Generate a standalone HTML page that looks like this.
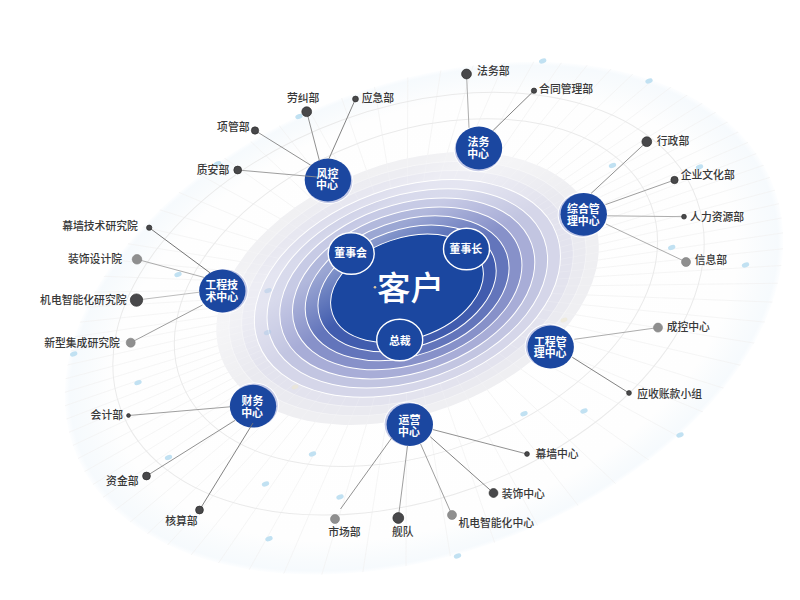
<!DOCTYPE html>
<html lang="zh"><head><meta charset="utf-8"><title>组织架构图</title>
<style>html,body{margin:0;padding:0;background:#fff;font-family:"Liberation Sans",sans-serif}svg{display:block}</style></head>
<body><svg width="800" height="600" viewBox="0 0 800 600">
<defs>
<radialGradient id="bgG" cx="0.5" cy="0.5" r="0.5"><stop offset="0" stop-color="#fff"/><stop offset="0.87" stop-color="#fefefe"/><stop offset="0.95" stop-color="#f8fbfd"/><stop offset="0.985" stop-color="#f6fafd"/><stop offset="1" stop-color="#fdfeff"/></radialGradient>
<clipPath id="bgC"><ellipse cx="424.00" cy="318.20" rx="373.60" ry="235.00" transform="rotate(-20.70 424.00 318.20)" /></clipPath>
</defs>
<ellipse cx="424.00" cy="318.20" rx="373.60" ry="235.00" transform="rotate(-20.70 424.00 318.20)" fill="url(#bgG)"/>
<g clip-path="url(#bgC)" stroke="#f2f2f2" stroke-width="0.8" fill="none"><path d="M463.7 268.5L898.7 118.7M464.4 270.5L904.4 136.4M465.0 272.6L909.6 154.4M465.5 274.7L914.1 173.0M466.0 277.0L918.1 192.4M466.4 279.3L921.5 212.6M466.7 281.8L924.2 234.0M466.9 284.4L926.1 256.8M467.0 287.2L927.0 281.4M467.0 290.3L926.6 308.1M466.7 293.7L924.7 337.3M466.3 297.4L920.6 369.5M465.5 301.5L913.6 405.3M464.2 306.1L902.8 444.9M462.3 311.2L886.6 489.0M459.6 316.8L863.3 537.4M455.9 322.8L830.6 589.5M450.8 329.0L786.3 643.7M444.1 335.1L728.6 696.6M435.9 340.6L657.7 743.6M426.5 344.7L576.3 779.7M416.6 347.2L489.9 801.3M406.8 348.0L405.1 808.0M397.8 347.3L327.1 801.8M389.9 345.5L258.8 786.4M383.2 343.1L201.0 765.4M377.7 340.3L152.8 741.6M373.1 337.5L113.0 716.9M369.3 334.6L80.0 692.3M366.1 331.9L52.5 668.4M363.4 329.3L29.5 645.6M361.2 326.7L9.9 623.8M359.3 324.3L-6.8 602.9M357.6 322.0L-21.2 583.0M356.1 319.8L-33.8 563.9M354.9 317.7L-44.9 545.3M353.7 315.6L-54.7 527.3M352.7 313.6L-63.4 509.6M351.8 311.6L-71.2 492.2M351.0 309.5L-78.3 474.8M350.3 307.5L-84.7 457.3M349.6 305.5L-90.4 439.6M349.0 303.4L-95.6 421.6M348.5 301.3L-100.1 403.0M348.0 299.0L-104.1 383.6M347.6 296.7L-107.5 363.4M347.3 294.2L-110.2 342.0M347.1 291.6L-112.1 319.2M347.0 288.8L-113.0 294.6M347.0 285.7L-112.6 267.9M347.3 282.3L-110.7 238.7M347.7 278.6L-106.6 206.5M348.5 274.5L-99.6 170.7M349.8 269.9L-88.8 131.1M351.7 264.8L-72.6 87.0M354.4 259.2L-49.3 38.6M358.1 253.2L-16.6 -13.5M363.2 247.0L27.7 -67.7M369.9 240.9L85.4 -120.6M378.1 235.4L156.3 -167.6M387.5 231.3L237.7 -203.7M397.4 228.8L324.1 -225.3M407.2 228.0L408.9 -232.0M416.2 228.7L486.9 -225.8M424.1 230.5L555.2 -210.4M430.8 232.9L613.0 -189.4M436.3 235.7L661.2 -165.6M440.9 238.5L701.0 -140.9M444.7 241.4L734.0 -116.3M447.9 244.1L761.5 -92.4M450.6 246.7L784.5 -69.6M452.8 249.3L804.1 -47.8M454.7 251.7L820.8 -26.9M456.4 254.0L835.2 -7.0M457.9 256.2L847.8 12.1M459.1 258.3L858.9 30.7M460.3 260.4L868.7 48.7M461.3 262.4L877.4 66.4M462.2 264.4L885.2 83.8M463.0 266.5L892.3 101.2"/></g>
<ellipse cx="415.90" cy="292.60" rx="251.00" ry="160.00" transform="rotate(-20.60 415.90 292.60)" fill="none" stroke="#eaeaea" stroke-width="1"/>
<ellipse cx="408.50" cy="303.70" rx="306.50" ry="195.30" transform="rotate(-20.00 408.50 303.70)" fill="none" stroke="#eaeaea" stroke-width="1"/>
<g fill="#c1e1f2"><ellipse cx="542.7" cy="61" rx="3.8" ry="2.35" transform="rotate(-20 542.7 61)"/><ellipse cx="649" cy="81" rx="3.8" ry="2.35" transform="rotate(-20 649 81)"/><ellipse cx="299" cy="116.5" rx="3.8" ry="2.35" transform="rotate(-20 299 116.5)"/><ellipse cx="217.5" cy="163.7" rx="3.8" ry="2.35" transform="rotate(-20 217.5 163.7)"/><ellipse cx="178" cy="274.5" rx="3.8" ry="2.35" transform="rotate(-20 178 274.5)"/><ellipse cx="73.7" cy="354" rx="3.8" ry="2.35" transform="rotate(-20 73.7 354)"/><ellipse cx="138" cy="382.6" rx="3.8" ry="2.35" transform="rotate(-20 138 382.6)"/><ellipse cx="612.5" cy="165.5" rx="3.8" ry="2.35" transform="rotate(-20 612.5 165.5)"/><ellipse cx="699.5" cy="167" rx="3.8" ry="2.35" transform="rotate(-20 699.5 167)"/><ellipse cx="671.7" cy="247.5" rx="3.8" ry="2.35" transform="rotate(-20 671.7 247.5)"/><ellipse cx="745.5" cy="265" rx="3.8" ry="2.35" transform="rotate(-20 745.5 265)"/><ellipse cx="524" cy="413.7" rx="3.8" ry="2.35" transform="rotate(-20 524 413.7)"/><ellipse cx="584" cy="411" rx="3.8" ry="2.35" transform="rotate(-20 584 411)"/><ellipse cx="680" cy="435" rx="3.8" ry="2.35" transform="rotate(-20 680 435)"/><ellipse cx="312.5" cy="454" rx="3.8" ry="2.35" transform="rotate(-20 312.5 454)"/><ellipse cx="265.5" cy="484" rx="3.8" ry="2.35" transform="rotate(-20 265.5 484)"/><ellipse cx="340" cy="497" rx="3.8" ry="2.35" transform="rotate(-20 340 497)"/><ellipse cx="269" cy="538.8" rx="3.8" ry="2.35" transform="rotate(-20 269 538.8)"/><ellipse cx="168.5" cy="457.5" rx="3.8" ry="2.35" transform="rotate(-20 168.5 457.5)"/><ellipse cx="457.5" cy="556" rx="3.8" ry="2.35" transform="rotate(-20 457.5 556)"/></g>
<clipPath id="r9C"><ellipse cx="407.60" cy="288.50" rx="198.68" ry="125.24" transform="rotate(-20.53 407.60 288.50)" /></clipPath>
<ellipse cx="407.60" cy="288.50" rx="198.68" ry="125.24" transform="rotate(-20.53 407.60 288.50)" fill="#efeff2" />
<ellipse cx="407.54" cy="288.48" rx="185.36" ry="116.93" transform="rotate(-20.36 407.54 288.48)" fill="#eaeaf0" stroke="#fff" stroke-opacity="0.4" stroke-width="0.9"/>
<ellipse cx="407.47" cy="288.45" rx="172.04" ry="108.62" transform="rotate(-20.19 407.47 288.45)" fill="#e3e3ee" stroke="#fff" stroke-opacity="0.4" stroke-width="0.9"/>
<g clip-path="url(#r9C)" stroke="#fff" stroke-opacity="0.25" stroke-width="0.7" fill="none"><path d="M463.7 268.5L898.7 118.7M464.4 270.5L904.4 136.4M465.0 272.6L909.6 154.4M465.5 274.7L914.1 173.0M466.0 277.0L918.1 192.4M466.4 279.3L921.5 212.6M466.7 281.8L924.2 234.0M466.9 284.4L926.1 256.8M467.0 287.2L927.0 281.4M467.0 290.3L926.6 308.1M466.7 293.7L924.7 337.3M466.3 297.4L920.6 369.5M465.5 301.5L913.6 405.3M464.2 306.1L902.8 444.9M462.3 311.2L886.6 489.0M459.6 316.8L863.3 537.4M455.9 322.8L830.6 589.5M450.8 329.0L786.3 643.7M444.1 335.1L728.6 696.6M435.9 340.6L657.7 743.6M426.5 344.7L576.3 779.7M416.6 347.2L489.9 801.3M406.8 348.0L405.1 808.0M397.8 347.3L327.1 801.8M389.9 345.5L258.8 786.4M383.2 343.1L201.0 765.4M377.7 340.3L152.8 741.6M373.1 337.5L113.0 716.9M369.3 334.6L80.0 692.3M366.1 331.9L52.5 668.4M363.4 329.3L29.5 645.6M361.2 326.7L9.9 623.8M359.3 324.3L-6.8 602.9M357.6 322.0L-21.2 583.0M356.1 319.8L-33.8 563.9M354.9 317.7L-44.9 545.3M353.7 315.6L-54.7 527.3M352.7 313.6L-63.4 509.6M351.8 311.6L-71.2 492.2M351.0 309.5L-78.3 474.8M350.3 307.5L-84.7 457.3M349.6 305.5L-90.4 439.6M349.0 303.4L-95.6 421.6M348.5 301.3L-100.1 403.0M348.0 299.0L-104.1 383.6M347.6 296.7L-107.5 363.4M347.3 294.2L-110.2 342.0M347.1 291.6L-112.1 319.2M347.0 288.8L-113.0 294.6M347.0 285.7L-112.6 267.9M347.3 282.3L-110.7 238.7M347.7 278.6L-106.6 206.5M348.5 274.5L-99.6 170.7M349.8 269.9L-88.8 131.1M351.7 264.8L-72.6 87.0M354.4 259.2L-49.3 38.6M358.1 253.2L-16.6 -13.5M363.2 247.0L27.7 -67.7M369.9 240.9L85.4 -120.6M378.1 235.4L156.3 -167.6M387.5 231.3L237.7 -203.7M397.4 228.8L324.1 -225.3M407.2 228.0L408.9 -232.0M416.2 228.7L486.9 -225.8M424.1 230.5L555.2 -210.4M430.8 232.9L613.0 -189.4M436.3 235.7L661.2 -165.6M440.9 238.5L701.0 -140.9M444.7 241.4L734.0 -116.3M447.9 244.1L761.5 -92.4M450.6 246.7L784.5 -69.6M452.8 249.3L804.1 -47.8M454.7 251.7L820.8 -26.9M456.4 254.0L835.2 -7.0M457.9 256.2L847.8 12.1M459.1 258.3L858.9 30.7M460.3 260.4L868.7 48.7M461.3 262.4L877.4 66.4M462.2 264.4L885.2 83.8M463.0 266.5L892.3 101.2"/></g>
<ellipse cx="407.40" cy="288.43" rx="158.72" ry="100.31" transform="rotate(-20.02 407.40 288.43)" fill="#d5d6e9" stroke="#fff" stroke-width="1.0"/>
<ellipse cx="407.33" cy="288.41" rx="145.40" ry="92.00" transform="rotate(-19.85 407.33 288.41)" fill="#c2c5e1" stroke="#fff" stroke-width="1.0"/>
<ellipse cx="407.27" cy="288.39" rx="132.08" ry="83.69" transform="rotate(-19.68 407.27 288.39)" fill="#a8add7" stroke="#fff" stroke-width="1.0"/>
<ellipse cx="407.20" cy="288.37" rx="118.76" ry="75.38" transform="rotate(-19.51 407.20 288.37)" fill="#8791c9" stroke="#fff" stroke-width="1.0"/>
<ellipse cx="407.13" cy="288.34" rx="105.44" ry="67.07" transform="rotate(-19.34 407.13 288.34)" fill="#6375bb" stroke="#fff" stroke-width="1.0"/>
<ellipse cx="407.07" cy="288.32" rx="92.12" ry="58.76" transform="rotate(-19.17 407.07 288.32)" fill="#415cae" stroke="#fff" stroke-width="1.0"/>
<linearGradient id="fog" gradientUnits="userSpaceOnUse" x1="407" y1="288.4" x2="386.6" y2="170.2"><stop offset="0.04" stop-color="#fff" stop-opacity="0"/><stop offset="0.48" stop-color="#fff" stop-opacity="0.36"/><stop offset="0.67" stop-color="#fff" stop-opacity="0.36"/><stop offset="0.85" stop-color="#fff" stop-opacity="0.16"/><stop offset="1" stop-color="#fff" stop-opacity="0.10"/></linearGradient>
<ellipse cx="407.60" cy="288.50" rx="198.68" ry="125.24" transform="rotate(-20.53 407.60 288.50)" fill="url(#fog)"/>
<ellipse cx="407.00" cy="288.30" rx="78.80" ry="50.45" transform="rotate(-19.00 407.00 288.30)" fill="#1b47a0" stroke="#fff" stroke-width="1.0"/>
<ellipse cx="267.5" cy="332.5" rx="3.8" ry="2.35" transform="rotate(-20 267.5 332.5)" fill="#a9c8e6" fill-opacity="0.45"/>
<ellipse cx="268" cy="290.6" rx="3.8" ry="2.35" transform="rotate(-20 268 290.6)" fill="#a9c8e6" fill-opacity="0.45"/>
<ellipse cx="564" cy="320" rx="3.5" ry="2.2" transform="rotate(-20 564 320)" fill="#ece6cf" fill-opacity="0.6"/>
<ellipse cx="295" cy="387" rx="3.5" ry="2.2" transform="rotate(-20 295 387)" fill="#ece6cf" fill-opacity="0.6"/>
<circle cx="375" cy="287.2" r="1.3" fill="#dcc8a0"/>
<ellipse cx="351.2" cy="253.5" rx="23.0" ry="20.8" fill="#1b47a0" stroke="#fff" stroke-width="1.4"/>
<ellipse cx="466.5" cy="249" rx="23.0" ry="20.8" fill="#1b47a0" stroke="#fff" stroke-width="1.4"/>
<ellipse cx="399.7" cy="340" rx="23.0" ry="20.8" fill="#1b47a0" stroke="#fff" stroke-width="1.4"/>
<ellipse cx="328.85" cy="181.29" rx="24.599999999999998" ry="22.799999999999997" fill="#fff"/><ellipse cx="328.85" cy="181.29" rx="23.599999999999998" ry="21.799999999999997" fill="#c3c9e7"/><ellipse cx="327.9" cy="180" rx="23.2" ry="21.4" fill="#1b47a0"/><ellipse cx="478.27" cy="149.42" rx="24.599999999999998" ry="22.799999999999997" fill="#fff"/><ellipse cx="478.27" cy="149.42" rx="23.599999999999998" ry="21.799999999999997" fill="#c3c9e7"/><ellipse cx="479" cy="148" rx="23.2" ry="21.4" fill="#1b47a0"/><ellipse cx="582.27" cy="214.92" rx="24.599999999999998" ry="22.799999999999997" fill="#fff"/><ellipse cx="582.27" cy="214.92" rx="23.599999999999998" ry="21.799999999999997" fill="#c3c9e7"/><ellipse cx="583.75" cy="214.3" rx="23.2" ry="21.4" fill="#1b47a0"/><ellipse cx="549.22" cy="346.39" rx="24.599999999999998" ry="22.799999999999997" fill="#fff"/><ellipse cx="549.22" cy="346.39" rx="23.599999999999998" ry="21.799999999999997" fill="#c3c9e7"/><ellipse cx="550.7" cy="347" rx="23.2" ry="21.4" fill="#1b47a0"/><ellipse cx="408.25" cy="424.21" rx="24.599999999999998" ry="22.799999999999997" fill="#fff"/><ellipse cx="408.25" cy="424.21" rx="23.599999999999998" ry="21.799999999999997" fill="#c3c9e7"/><ellipse cx="409.8" cy="424.6" rx="23.2" ry="21.4" fill="#1b47a0"/><ellipse cx="254.27" cy="405.23" rx="24.599999999999998" ry="22.799999999999997" fill="#fff"/><ellipse cx="254.27" cy="405.23" rx="23.599999999999998" ry="21.799999999999997" fill="#c3c9e7"/><ellipse cx="253" cy="406.2" rx="23.2" ry="21.4" fill="#1b47a0"/><ellipse cx="223.90" cy="290.98" rx="24.599999999999998" ry="22.799999999999997" fill="#fff"/><ellipse cx="223.90" cy="290.98" rx="23.599999999999998" ry="21.799999999999997" fill="#c3c9e7"/><ellipse cx="222.3" cy="291" rx="23.2" ry="21.4" fill="#1b47a0"/>
<g stroke-width="0.9"><line x1="237.7" y1="170.0" x2="317.0" y2="177.0" stroke="#939393"/><line x1="255.0" y1="130.5" x2="310.7" y2="165.2" stroke="#858585"/><line x1="306.7" y1="111.7" x2="319.5" y2="161.0" stroke="#858585"/><line x1="355.5" y1="99.0" x2="328.9" y2="158.8" stroke="#747474"/><line x1="466.5" y1="74.0" x2="469.0" y2="127.8" stroke="#a3a3a3"/><line x1="534.0" y1="90.7" x2="493.2" y2="130.3" stroke="#747474"/><line x1="646.8" y1="141.7" x2="591.1" y2="193.4" stroke="#858585"/><line x1="674.5" y1="180.0" x2="605.5" y2="204.6" stroke="#939393"/><line x1="684.0" y1="216.7" x2="607.2" y2="215.8" stroke="#a3a3a3"/><line x1="686.0" y1="262.0" x2="606.0" y2="224.0" stroke="#a3a3a3"/><line x1="658.0" y1="327.6" x2="574.3" y2="339.3" stroke="#a3a3a3"/><line x1="629.0" y1="393.0" x2="572.3" y2="357.3" stroke="#747474"/><line x1="527.0" y1="454.0" x2="433.0" y2="429.6" stroke="#858585"/><line x1="493.5" y1="493.0" x2="430.3" y2="436.8" stroke="#747474"/><line x1="452.0" y1="515.0" x2="420.5" y2="443.8" stroke="#939393"/><line x1="398.3" y1="518.0" x2="407.5" y2="445.8" stroke="#939393"/><line x1="340.5" y1="509.0" x2="391.8" y2="437.8" stroke="#858585"/><line x1="128.5" y1="415.5" x2="230.2" y2="406.8" stroke="#939393"/><line x1="146.5" y1="476.0" x2="235.2" y2="420.3" stroke="#858585"/><line x1="199.5" y1="510.0" x2="253.0" y2="423.0" stroke="#747474"/><line x1="149.2" y1="227.7" x2="210.0" y2="272.8" stroke="#636363"/><line x1="137.0" y1="259.3" x2="204.0" y2="277.4" stroke="#a3a3a3"/><line x1="136.5" y1="300.1" x2="199.5" y2="292.2" stroke="#b4b4b4"/><line x1="130.7" y1="342.7" x2="202.5" y2="305.0" stroke="#939393"/></g>
<circle cx="237.7" cy="170" r="3.90" fill="#48484a" stroke="#2e2e2e" stroke-width="0.7"/><circle cx="255" cy="130.5" r="3.65" fill="#48484a" stroke="#2e2e2e" stroke-width="0.7"/><circle cx="306.7" cy="111.7" r="4.90" fill="#48484a" stroke="#2e2e2e" stroke-width="0.7"/><circle cx="355.5" cy="99" r="2.90" fill="#48484a" stroke="#2e2e2e" stroke-width="0.7"/><circle cx="466.5" cy="74" r="4.90" fill="#48484a" stroke="#2e2e2e" stroke-width="0.7"/><circle cx="534" cy="90.7" r="2.65" fill="#48484a" stroke="#2e2e2e" stroke-width="0.7"/><circle cx="646.8" cy="141.7" r="4.90" fill="#48484a" stroke="#2e2e2e" stroke-width="0.7"/><circle cx="674.5" cy="180" r="3.65" fill="#48484a" stroke="#2e2e2e" stroke-width="0.7"/><circle cx="684" cy="216.7" r="2.40" fill="#48484a" stroke="#2e2e2e" stroke-width="0.7"/><circle cx="686" cy="262" r="4.50" fill="#8f8f8f" stroke="#818181" stroke-width="0.6"/><circle cx="658" cy="327.6" r="4.50" fill="#8f8f8f" stroke="#818181" stroke-width="0.6"/><circle cx="629" cy="393" r="2.40" fill="#48484a" stroke="#2e2e2e" stroke-width="0.7"/><circle cx="527" cy="454" r="2.40" fill="#48484a" stroke="#2e2e2e" stroke-width="0.7"/><circle cx="493.5" cy="493" r="4.40" fill="#48484a" stroke="#2e2e2e" stroke-width="0.7"/><circle cx="452" cy="515" r="4.50" fill="#8f8f8f" stroke="#818181" stroke-width="0.6"/><circle cx="398.3" cy="518" r="5.40" fill="#48484a" stroke="#2e2e2e" stroke-width="0.7"/><circle cx="335" cy="519" r="4.50" fill="#8f8f8f" stroke="#818181" stroke-width="0.6"/><circle cx="128.5" cy="415.5" r="1.90" fill="#48484a" stroke="#2e2e2e" stroke-width="0.7"/><circle cx="146.5" cy="476" r="3.90" fill="#48484a" stroke="#2e2e2e" stroke-width="0.7"/><circle cx="199.5" cy="510" r="3.90" fill="#48484a" stroke="#2e2e2e" stroke-width="0.7"/><circle cx="149.2" cy="227.7" r="2.65" fill="#48484a" stroke="#2e2e2e" stroke-width="0.7"/><circle cx="137" cy="259.3" r="4.80" fill="#8f8f8f" stroke="#818181" stroke-width="0.6"/><circle cx="136.5" cy="300.1" r="6.20" fill="#48484a" stroke="#2e2e2e" stroke-width="0.7"/><circle cx="130.7" cy="342.7" r="4.50" fill="#8f8f8f" stroke="#818181" stroke-width="0.6"/>
<g font-family="'Liberation Sans', 'Noto Sans CJK SC', sans-serif"><text x="316.5" y="177.9" font-size="10.9" font-weight="700" fill="#fff" textLength="21.8">风控</text><text x="316.1" y="189.2" font-size="10.9" font-weight="700" fill="#fff" textLength="21.8">中心</text><text x="196.8" y="174.1" font-size="10.8" font-weight="500" fill="#383838" textLength="32.4">质安部</text><text x="217.1" y="131.1" font-size="10.8" font-weight="500" fill="#383838" textLength="32.4">项管部</text><text x="287.0" y="102.1" font-size="10.8" font-weight="500" fill="#383838" textLength="32.4">劳纠部</text><text x="361.7" y="102.1" font-size="10.8" font-weight="500" fill="#383838" textLength="32.4">应急部</text><text x="467.6" y="145.7" font-size="10.9" font-weight="700" fill="#fff" textLength="21.8">法务</text><text x="467.2" y="157.8" font-size="10.9" font-weight="700" fill="#fff" textLength="21.8">中心</text><text x="477.1" y="74.6" font-size="10.8" font-weight="500" fill="#383838" textLength="32.4">法务部</text><text x="539.1" y="93.1" font-size="10.8" font-weight="500" fill="#383838" textLength="54.0">合同管理部</text><text x="567.0" y="213.3" font-size="10.9" font-weight="700" fill="#fff" textLength="32.7">综合管</text><text x="566.9" y="225.0" font-size="10.9" font-weight="700" fill="#fff" textLength="32.7">理中心</text><text x="656.8" y="145.1" font-size="10.8" font-weight="500" fill="#383838" textLength="32.4">行政部</text><text x="680.7" y="178.6" font-size="10.8" font-weight="500" fill="#383838" textLength="54.0">企业文化部</text><text x="690.1" y="220.8" font-size="10.8" font-weight="500" fill="#383838" textLength="54.0">人力资源部</text><text x="694.7" y="263.6" font-size="10.8" font-weight="500" fill="#383838" textLength="32.4">信息部</text><text x="533.9" y="345.6" font-size="10.9" font-weight="700" fill="#fff" textLength="32.7">工程管</text><text x="533.8" y="357.1" font-size="10.9" font-weight="700" fill="#fff" textLength="32.7">理中心</text><text x="666.7" y="331.1" font-size="10.8" font-weight="500" fill="#383838" textLength="43.2">成控中心</text><text x="637.2" y="397.8" font-size="10.8" font-weight="500" fill="#383838" textLength="64.8">应收账款小组</text><text x="398.6" y="424.2" font-size="10.9" font-weight="700" fill="#fff" textLength="21.8">运营</text><text x="398.0" y="436.3" font-size="10.9" font-weight="700" fill="#fff" textLength="21.8">中心</text><text x="535.4" y="458.1" font-size="10.8" font-weight="500" fill="#383838" textLength="43.2">幕墙中心</text><text x="501.7" y="497.8" font-size="10.8" font-weight="500" fill="#383838" textLength="43.2">装饰中心</text><text x="458.4" y="527.1" font-size="10.8" font-weight="500" fill="#383838" textLength="75.6">机电智能化中心</text><text x="391.9" y="536.1" font-size="10.8" font-weight="500" fill="#383838" textLength="21.6">舰队</text><text x="328.2" y="536.1" font-size="10.8" font-weight="500" fill="#383838" textLength="32.4">市场部</text><text x="241.6" y="404.5" font-size="10.9" font-weight="700" fill="#fff" textLength="21.8">财务</text><text x="241.2" y="416.5" font-size="10.9" font-weight="700" fill="#fff" textLength="21.8">中心</text><text x="90.6" y="419.1" font-size="10.8" font-weight="500" fill="#383838" textLength="32.4">会计部</text><text x="106.1" y="484.6" font-size="10.8" font-weight="500" fill="#383838" textLength="32.4">资金部</text><text x="165.2" y="525.1" font-size="10.8" font-weight="500" fill="#383838" textLength="32.4">核算部</text><text x="205.3" y="289.3" font-size="10.9" font-weight="700" fill="#fff" textLength="32.7">工程技</text><text x="205.4" y="301.0" font-size="10.9" font-weight="700" fill="#fff" textLength="32.7">术中心</text><text x="62.2" y="230.1" font-size="10.8" font-weight="500" fill="#383838" textLength="75.6">幕墙技术研究院</text><text x="68.0" y="262.8" font-size="10.8" font-weight="500" fill="#383838" textLength="54.0">装饰设计院</text><text x="40.1" y="303.7" font-size="10.8" font-weight="500" fill="#383838" textLength="86.4">机电智能化研究院</text><text x="44.2" y="347.1" font-size="10.8" font-weight="500" fill="#383838" textLength="75.6">新型集成研究院</text><text x="334.3" y="257.2" font-size="10.9" font-weight="700" fill="#fff" textLength="32.7">董事会</text><text x="449.5" y="253.4" font-size="10.9" font-weight="700" fill="#fff" textLength="32.7">董事长</text><text x="388.9" y="344.5" font-size="10.9" font-weight="700" fill="#fff" textLength="21.8">总裁</text><text x="377.1" y="300.2" font-size="33.5" font-weight="500" fill="#fff" textLength="67.0">客户</text></g>
</svg></body></html>
